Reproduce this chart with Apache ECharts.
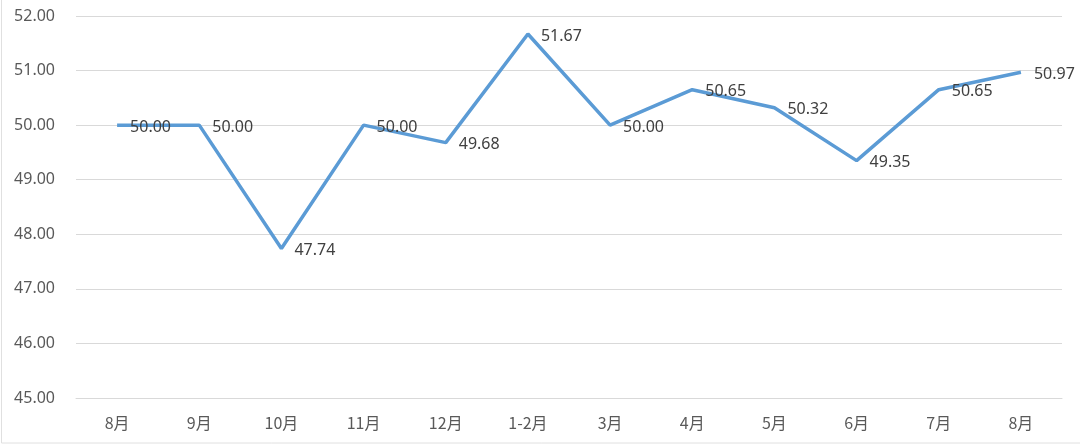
<!DOCTYPE html>
<html><head><meta charset="utf-8">
<script src="https://cdn.jsdelivr.net/npm/echarts@6/dist/echarts.min.js"></script>
<style>html,body{margin:0;padding:0;background:#fff}#c{width:1080px;height:446px}</style>
</head><body><div id="c"></div>
<script>
const categories = ['8月','9月','10月','11月','12月','1-2月','3月','4月','5月','6月','7月','8月'];
const values = [50.00, 50.00, 47.74, 50.00, 49.68, 51.67, 50.00, 50.65, 50.32, 49.35, 50.65, 50.97];
const yMin = 45, yMax = 52, yStep = 1;

const chart = echarts.init(document.getElementById('c'));
chart.setOption({
  animation: false,
  backgroundColor: '#fff',
  graphic: [{type:'rect', shape:{x:1.5,y:-2,width:1100,height:445}, style:{fill:'none', stroke:'#e0e0e0', lineWidth:1}, silent:true}],
  grid: {left: 76, right: 18, top: 16, bottom: 48},
  xAxis: {
    type: 'category', data: categories, boundaryGap: true,
    axisLine: {show: true, lineStyle: {color: '#d9d9d9'}},
    axisTick: {show: false},
    axisLabel: {color: '#595959', fontSize: 16, margin: 17, fontFamily: 'Noto Sans CJK SC'}
  },
  yAxis: {
    type: 'value', min: yMin, max: yMax, interval: yStep,
    axisLine: {show: false}, axisTick: {show: false},
    axisLabel: {color: '#595959', fontSize: 16, margin: 21, formatter: v => v.toFixed(2), fontFamily: 'Noto Sans'},
    splitLine: {lineStyle: {color: '#d9d9d9', width: 1}}
  },
  series: [{
    type: 'line', data: values, symbol: 'circle', symbolSize: 2, showSymbol: true,
    itemStyle: {color: 'rgba(91,155,213,0)', borderWidth: 0},
    lineStyle: {color: '#5b9bd5', width: 3.5},
    label: {show: true, position: 'right', distance: 12, offset: [0, 2], color: '#404040', fontSize: 16,
      fontFamily: 'Noto Sans', formatter: p => p.value.toFixed(2)}
  }]
});
</script></body></html>
